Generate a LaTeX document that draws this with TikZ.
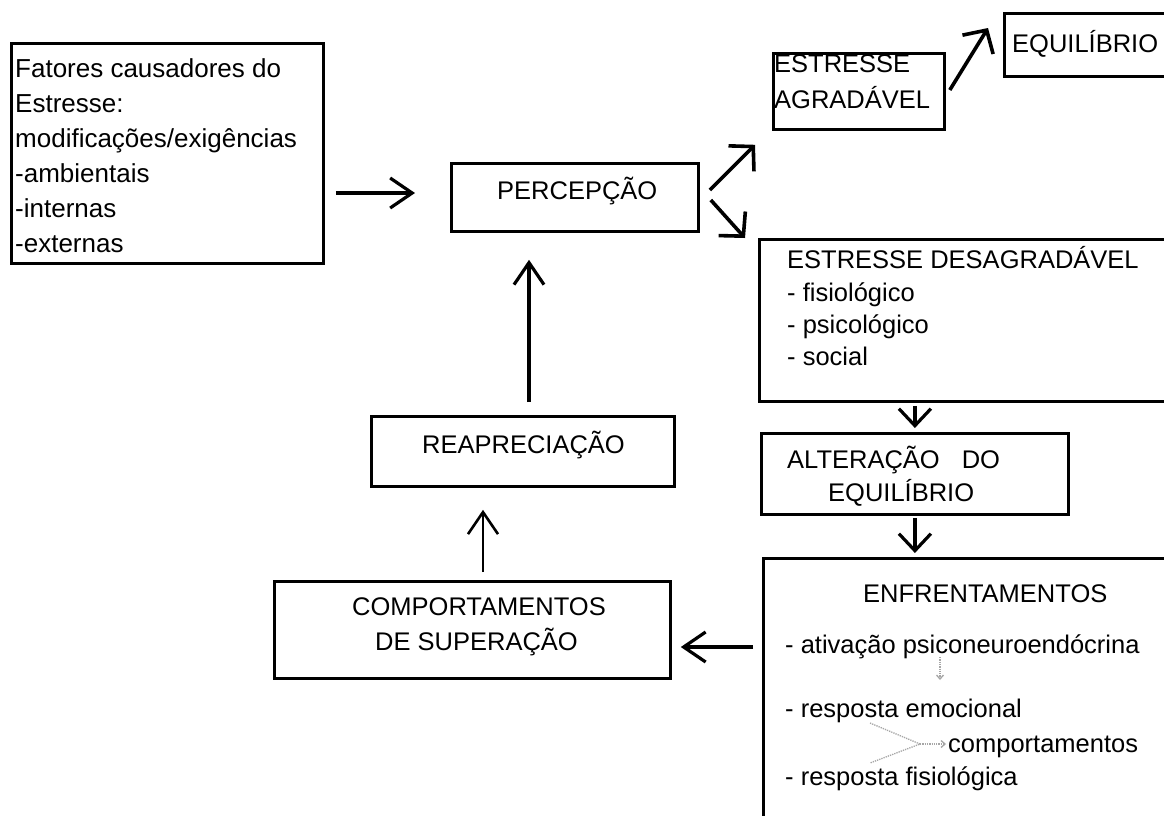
\documentclass[tikz,border=0pt]{standalone}
\usepackage{fontspec}
\setmainfont{Liberation Sans}
\usetikzlibrary{arrows.meta,calc}
\begin{document}
\begin{tikzpicture}[x=1pt,y=-1pt,
  box/.style={draw, line width=2.8pt, rectangle, inner sep=0pt, anchor=north west},
  txt/.style={anchor=base west, inner sep=0pt, font=\fontsize{25.5}{30}\selectfont},
  ltxt/.style={anchor=base west, inner sep=0pt, font=\fontsize{26}{30}\selectfont},
  arr/.style={line width=3.2pt, -{Straight Barb[length=22pt,width=30pt]}},
  darr/.style={line width=3.6pt, -{Straight Barb[length=17pt,width=36pt]}},
  varr/.style={line width=3.2pt, -{Straight Barb[length=17pt,width=32pt]}},
  dots/.style={gray!70, line width=1.3pt, densely dotted}]
\useasboundingbox (0,0) rectangle (1164,815);
\clip (0,0) rectangle (1164,815);
\fill[white] (0,0) rectangle (1164,815);

% boxes
\node[box, minimum width=312pt, minimum height=220pt] (f) at (10,42) {};
\node[box, minimum width=247pt, minimum height=68pt] (p) at (450,162) {};
\node[box, minimum width=171pt, minimum height=76pt] (ea) at (772,52) {};
\node[box, minimum width=169pt, minimum height=63pt] (eq) at (1003,12) {};
\node[box, minimum width=414pt, minimum height=162pt] (ed) at (758,238) {};
\node[box, minimum width=307pt, minimum height=81pt] (al) at (760,432) {};
\node[box, minimum width=410pt, minimum height=268pt] (en) at (762,557) {};
\node[box, minimum width=396pt, minimum height=97pt] (cs) at (273,580) {};
\node[box, minimum width=303pt, minimum height=70pt] (re) at (370,415) {};

% texts
\node[ltxt] (f1) at (15,77) {Fatores causadores do};
\node[ltxt] (f2) at (15,112) {Estresse:};
\node[ltxt] (f3) at (15,147) {modificações/exigências};
\node[ltxt] (f4) at (15,182) {-ambientais};
\node[ltxt] (f5) at (15,217) {-internas};
\node[ltxt] (f6) at (15,252) {-externas};

\node[txt] (pt) at (497,199) {PERCEPÇÃO};

\node[txt] (ea1) at (774,72) {ESTRESSE};
\node[txt] (ea2) at (774,108) {AGRADÁVEL};

\node[txt] (eqt) at (1012,52) {EQUILÍBRIO};

\node[txt] (ed1) at (787,268) {ESTRESSE DESAGRADÁVEL};
\node[txt] (ed2) at (787,301) {- fisiológico};
\node[txt] (ed3) at (787,333) {- psicológico};
\node[txt] (ed4) at (787,365) {- social};

\node[txt] (al1) at (787,468) {ALTERAÇÃO\hspace{22pt}DO};
\node[txt] (al2) at (828,501) {EQUILÍBRIO};

\node[txt] (en1) at (863,602) {ENFRENTAMENTOS};
\node[txt] (en2) at (785,653) {- ativação psiconeuroendócrina};
\node[txt] (en3) at (785,717) {- resposta emocional};
\node[txt] (en4) at (948,752) {comportamentos};
\node[txt] (en5) at (785,785) {- resposta fisiológica};

\node[txt] (cs1) at (352,615) {COMPORTAMENTOS};
\node[txt] (cs2) at (375,650) {DE SUPERAÇÃO};

\node[txt] (ret) at (422,453) {REAPRECIAÇÃO};

% connectors
\draw[arr] ($(f.north east)+(11,151)$) -- ($(p.north west)+(-35,31)$);
\draw[darr] ($(p.north east)+(10,28)$) -- ($(ea.south west)+(-17,14)$);
\draw[darr] ($(p.north east)+(11,38)$) -- ($(ed.north west)+(-13,0)$);
\draw[darr] ($(ea.north east)+(4,38)$) -- ($(eq.north west)+(-15,16)$);
\draw[varr] ($(al.north |- ed.south)+(0,3)$) -- ($(al.north)+(0,-4)$);
\draw[varr] ($(al.south)+(0,2)$) -- ($(al.south |- en.north)+(0,-4)$);
\draw[arr] ($(en.north west)+(-9,90)$) -- ($(cs.north east)+(9,67)$);
\draw[arr, line width=2.6pt] ($(cs.north west)+(210,-8)$) -- ($(re.south west)+(113,22)$);
\draw[arr] ($(re.north west)+(159,-13)$) -- ($(p.south west)+(79,27)$);

% dotted marks inside ENFRENTAMENTOS
\draw[dots, -{Straight Barb[length=4pt,width=7pt]}] ($(en.north west)+(178,100)$) -- ($(en.north west)+(178,123)$);
\draw[dots] ($(en.north west)+(108,166)$) -- ($(en.north west)+(158,187)$) -- ($(en.north west)+(108,206)$);
\draw[dots, -{Straight Barb[length=4pt,width=7pt]}] ($(en.north west)+(158,187)$) -- ($(en.north west)+(184,187)$);
\end{tikzpicture}
\end{document}
